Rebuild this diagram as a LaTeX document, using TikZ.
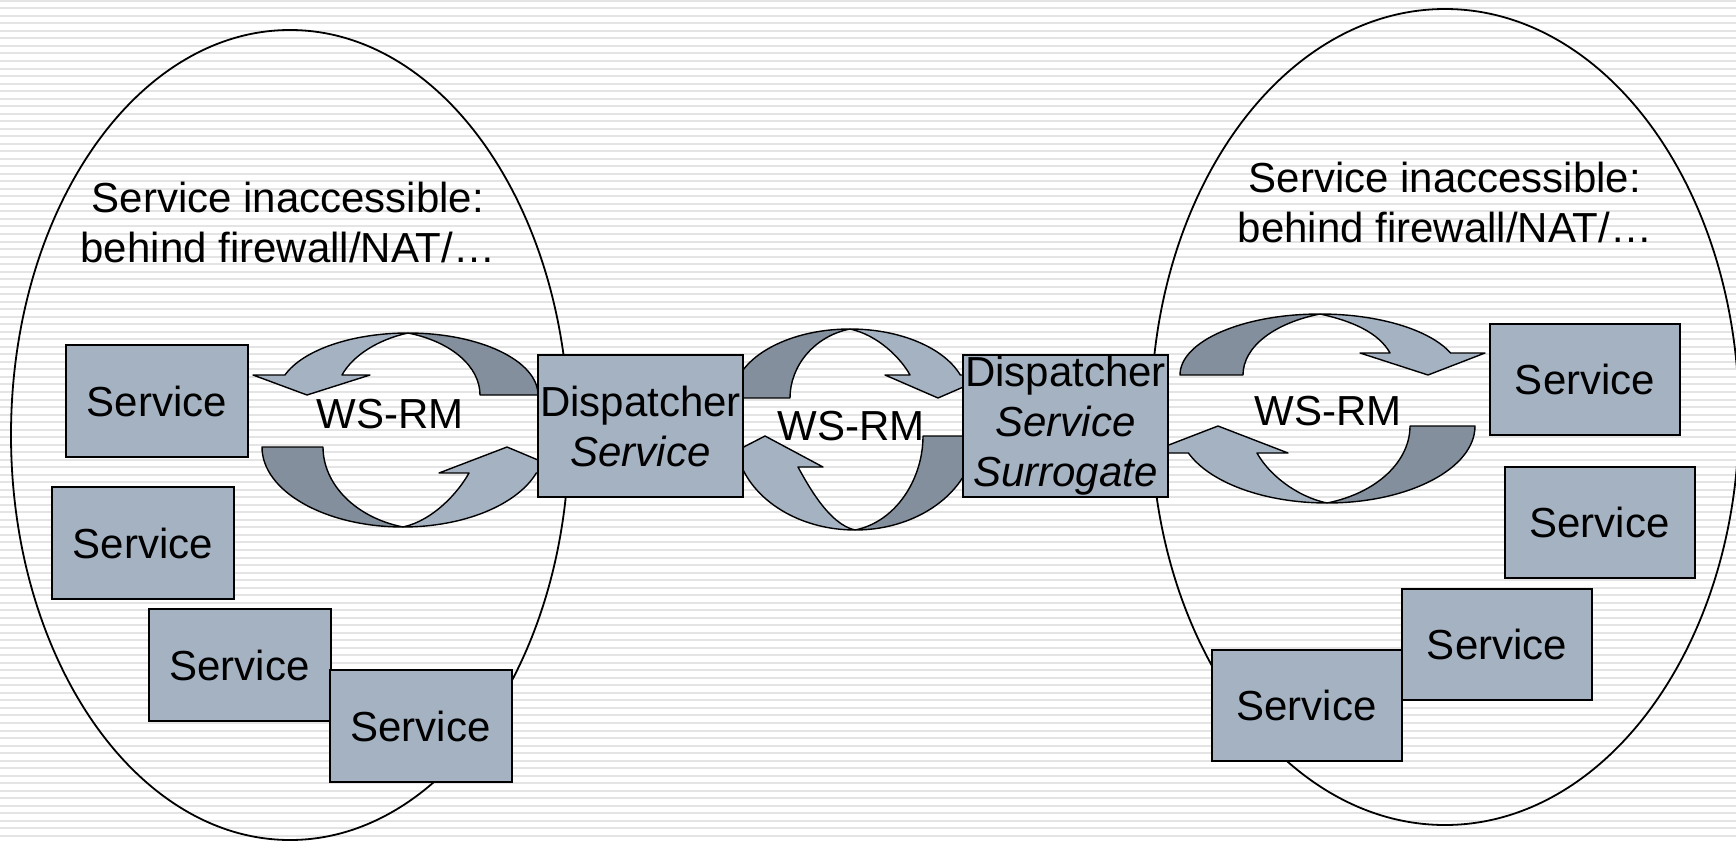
\documentclass[tikz,border=0pt]{standalone}
\usepackage{fontspec}
\setmainfont{Liberation Sans}
\definecolor{lightband}{RGB}{164,178,194}
\definecolor{darkband}{RGB}{131,143,156}
\definecolor{stripecol}{RGB}{228,228,228}
% #1 A, #2 B, #3 dark inner x, #4 light inner x, #5 head level, #6 tip, #7 inner corner, #8 outer corner, #9 outer end angle
\newcommand\wsarrow[9]{%
  \path[darkpart] (0,#2) arc[start angle=90, end angle=0, x radius=#1, y radius=#2]
    -- (#3,0) .. controls (#3,{0.46*#2}) and ({0.6*#3},{#2-0.12*#3}) .. (0,#2) -- cycle;
  \path[lightpart] (0,#2) arc[start angle=90, end angle=#9, x radius=#1, y radius=#2]
    -- (-#8,#5) -- (-#6,0) -- (-#7,#5) -- (-#4,#5)
    .. controls ({-0.84*#4},{#5+0.29*#4}) and ({-0.46*#4},{#2-0.1*#4}) .. (0,#2) -- cycle;
}
\begin{document}
\begin{tikzpicture}[x=0.5pt,y=-0.5pt,
  darkpart/.style={fill=darkband, draw=black, line width=0.7pt, line join=round},
  lightpart/.style={fill=lightband, draw=black, line width=0.7pt, line join=round},
  ring/.style={draw=black, line width=0.9pt},
  txt/.style={font=\fontsize{21}{25}\selectfont, inner sep=0pt},
  svc/.style={txt, draw=black, line width=1pt, fill=lightband, minimum width=91pt, minimum height=56pt},
  svcr/.style={svc, minimum width=95pt, minimum height=55.5pt},
  disp/.style={txt, draw=black, line width=1pt, fill=lightband, minimum width=102.5pt, minimum height=71pt, align=center},
  lbl/.style={txt, align=center}]
\useasboundingbox (0,0) rectangle (1736,841);
\begin{scope}
\clip (0,0) rectangle (1736,841);
\fill[white] (0,0) rectangle (1736,841);
\foreach \i in {0,...,112} \draw[stripecol, line width=1pt] (0,{0.8+7.523*\i}) -- (1736,{0.8+7.523*\i});
% enclosing ellipses
\draw[ring] (290,435) ellipse [x radius=279, y radius=405];
\draw[ring] (1445,417) ellipse [x radius=294, y radius=408];
% WS-RM curved arrows
\begin{scope}[shift={(408,395)},yscale=-1]
  \wsarrow{130}{62}{72}{66}{20}{101}{38}{155}{161.18}
\end{scope}
\begin{scope}[shift={(403,447)},xscale=-1]
  \wsarrow{141}{80}{80}{66}{26}{104}{36}{166}{161.03}
\end{scope}
\begin{scope}[shift={(850,398)},xscale=-1,yscale=-1]
  \wsarrow{117}{69}{60}{60}{23}{88}{35}{141}{160.53}
\end{scope}
\begin{scope}[shift={(855,436)}]
  \wsarrow{120}{94}{68}{57}{31}{90}{32}{150}{160.74}
\end{scope}
\begin{scope}[shift={(1320,375)},xscale=-1,yscale=-1]
  \wsarrow{140}{61}{77}{70}{22}{108}{40}{165}{158.86}
\end{scope}
\begin{scope}[shift={(1327,426)}]
  \wsarrow{148}{77}{83}{70}{27}{109}{39}{179}{159.47}
\end{scope}
% labels
\node[lbl] (ltxt) at (288,222.7) {Service inaccessible:\\behind firewall/NAT/…};
\node[lbl] (rtxt) at (1445,202) {Service inaccessible:\\behind firewall/NAT/…};
\node[txt] (wsl) at (390,414) {WS-RM};
\node[txt] (wsm) at (851,426) {WS-RM};
\node[txt] (wsr) at (1328,411) {WS-RM};
% service boxes
\node[svc] (s1) at (157,401) {Service};
\node[svc] (s2) at (143,543) {Service};
\node[svc] (s3) at (239.5,665) {Service};
\node[svc] (s4) at (420.5,726) {Service};
\node[svcr] (s5) at (1585,379.5) {Service};
\node[svcr] (s6) at (1599.5,522.5) {Service};
\node[svcr] (s7) at (1497,644.5) {Service};
\node[svcr] (s8) at (1306.5,705.5) {Service};
% dispatchers
\node[disp] (d1) at (640.5,426) {Dispatcher\\\textit{Service}};
\node[disp] (d2) at (1065.5,426) {Dispatcher\\\textit{Service}\\\textit{Surrogate}};
\end{scope}
\end{tikzpicture}
\end{document}
